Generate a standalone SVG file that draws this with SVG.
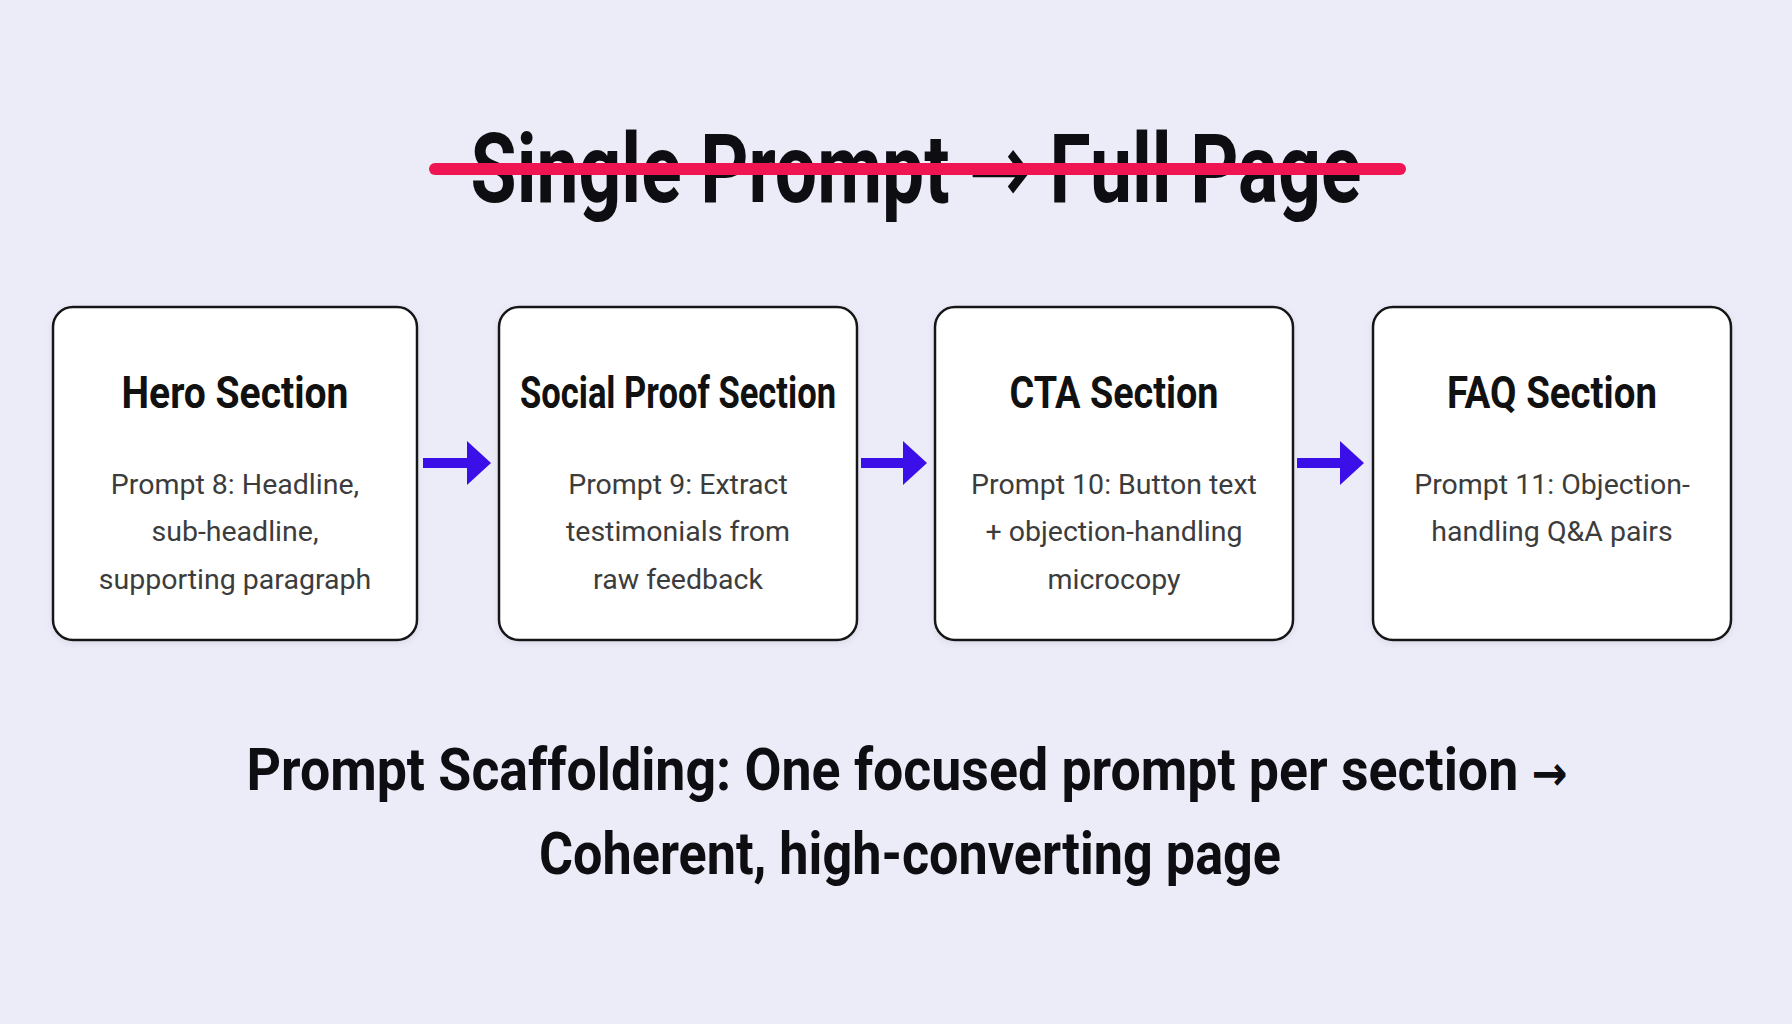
<svg xmlns="http://www.w3.org/2000/svg" width="1792" height="1024" viewBox="0 0 1792 1024">
  <defs>
    <style>
      .bg { fill: #ECECF8; }
      .box { fill: #FFFFFF; stroke: #161616; stroke-width: 2.5; }
      .ttl { font-family: Roboto, "Liberation Sans", sans-serif; font-weight: 700; fill: #0E0E12; text-anchor: middle; }
      .arw { font-family: "DejaVu Sans", sans-serif; font-weight: 700; }
      .hd { font-family: Roboto, "Liberation Sans", sans-serif; font-weight: 700; font-size: 45px; fill: #111111; text-anchor: middle; }
      .bd { font-family: Roboto, "Liberation Sans", sans-serif; font-weight: 400; font-size: 28.5px; fill: #3C3C3C; text-anchor: middle; }
      .shaft { stroke: #3B10E8; stroke-width: 10; fill: none; }
      .head { fill: #3B10E8; }
    </style>
    <filter id="sh" x="-10%" y="-10%" width="120%" height="120%">
      <feDropShadow dx="0" dy="2" stdDeviation="3" flood-color="#8080a0" flood-opacity="0.18"/>
    </filter>
  </defs>

  <rect class="bg" x="0" y="0" width="1792" height="1024"/>

  <g id="title">
    <text class="ttl" x="916" y="202" font-size="96" textLength="891" lengthAdjust="spacingAndGlyphs">Single Prompt <tspan class="arw">→</tspan> Full Page</text>
    <line x1="435" y1="169" x2="1400" y2="169" stroke="#EE1552" stroke-width="12" stroke-linecap="round"/>
  </g>

  <g id="node-hero">
    <rect class="box" x="53" y="307" width="364" height="333" rx="20" filter="url(#sh)"/>
    <text class="hd" x="235" y="408" textLength="227" lengthAdjust="spacingAndGlyphs">Hero Section</text>
    <text class="bd" x="235" y="494">Prompt 8: Headline,</text>
    <text class="bd" x="235" y="541">sub-headline,</text>
    <text class="bd" x="235" y="589">supporting paragraph</text>
  </g>

  <g id="node-social">
    <rect class="box" x="499" y="307" width="358" height="333" rx="20" filter="url(#sh)"/>
    <text class="hd" x="678" y="408" textLength="316" lengthAdjust="spacingAndGlyphs">Social Proof Section</text>
    <text class="bd" x="678" y="494">Prompt 9: Extract</text>
    <text class="bd" x="678" y="541">testimonials from</text>
    <text class="bd" x="678" y="589">raw feedback</text>
  </g>

  <g id="node-cta">
    <rect class="box" x="935" y="307" width="358" height="333" rx="20" filter="url(#sh)"/>
    <text class="hd" x="1114" y="408" textLength="209" lengthAdjust="spacingAndGlyphs">CTA Section</text>
    <text class="bd" x="1114" y="494">Prompt 10: Button text</text>
    <text class="bd" x="1114" y="541">+ objection-handling</text>
    <text class="bd" x="1114" y="589">microcopy</text>
  </g>

  <g id="node-faq">
    <rect class="box" x="1373" y="307" width="358" height="333" rx="20" filter="url(#sh)"/>
    <text class="hd" x="1552" y="408" textLength="210" lengthAdjust="spacingAndGlyphs">FAQ Section</text>
    <text class="bd" x="1552" y="494">Prompt 11: Objection-</text>
    <text class="bd" x="1552" y="541">handling Q&amp;A pairs</text>
  </g>

  <g id="connectors">
    <line class="shaft" x1="423" y1="463" x2="470" y2="463"/>
    <polygon class="head" points="467,441 491,463 467,485"/>
    <line class="shaft" x1="861" y1="463" x2="906" y2="463"/>
    <polygon class="head" points="903,441 927,463 903,485"/>
    <line class="shaft" x1="1297" y1="463" x2="1343" y2="463"/>
    <polygon class="head" points="1340,441 1364,463 1340,485"/>
  </g>

  <g id="caption">
    <text class="ttl" x="907" y="790" font-size="60" textLength="1321" lengthAdjust="spacingAndGlyphs">Prompt Scaffolding: One focused prompt per section <tspan class="arw" font-size="48">→</tspan></text>
    <text class="ttl" x="910" y="874" font-size="60" textLength="742" lengthAdjust="spacingAndGlyphs">Coherent, high-converting page</text>
  </g>
</svg>
